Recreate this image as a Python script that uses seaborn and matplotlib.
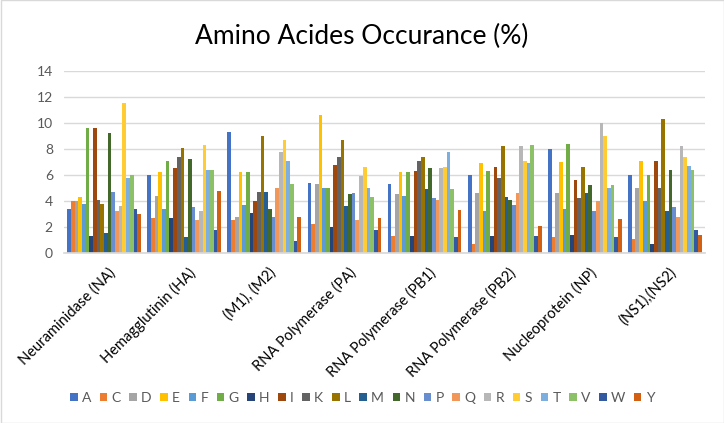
import matplotlib
matplotlib.use("Agg")
import matplotlib.pyplot as plt
import matplotlib.transforms as mtransforms
import seaborn as sns
import pandas as pd
from matplotlib.patches import Rectangle

proteins = ["Neuraminidase (NA)", "Hemagglutinin (HA)", "(M1), (M2)", "RNA Polymerase (PA)",
            "RNA Polymerase (PB1)", "RNA Polymerase (PB2)", "Nucleoprotein (NP)", "(NS1),(NS2)"]
amino_acids = ["A", "C", "D", "E", "F", "G", "H", "I", "K", "L",
               "M", "N", "P", "Q", "R", "S", "T", "V", "W", "Y"]

na  = [3.4, 4.0, 4.0, 4.3, 3.8, 9.6, 1.3, 9.6, 4.1, 3.8, 1.5, 9.2, 4.7, 3.2, 3.6, 11.5, 5.8, 6.0, 3.4, 3.0]
ha  = [6.0, 2.7, 4.4, 6.2, 3.4, 7.1, 2.7, 6.5, 7.4, 8.1, 1.2, 7.2, 3.5, 2.5, 3.2, 8.3, 6.4, 6.4, 1.8, 4.8]
m12 = [9.3, 2.5, 2.8, 6.2, 3.7, 6.2, 3.1, 4.0, 4.7, 9.0, 4.7, 3.4, 2.8, 5.0, 7.8, 8.7, 7.1, 5.3, 0.9, 2.8]
pa  = [5.4, 2.2, 5.3, 10.6, 5.0, 5.0, 2.0, 6.8, 7.4, 8.7, 3.6, 4.5, 4.6, 2.5, 5.9, 6.6, 5.0, 4.3, 1.8, 2.7]
pb1 = [5.3, 1.3, 4.5, 6.2, 4.4, 6.2, 1.3, 6.3, 7.1, 7.4, 4.9, 6.5, 4.2, 4.1, 6.5, 6.6, 7.8, 4.9, 1.2, 3.3]
pb2 = [6.0, 0.7, 4.6, 6.9, 3.2, 6.3, 1.3, 6.6, 5.8, 8.2, 4.3, 4.1, 3.7, 4.6, 8.2, 7.1, 6.9, 8.3, 1.3, 2.1]
np_ = [8.0, 1.2, 4.6, 7.0, 3.4, 8.4, 1.4, 5.6, 4.2, 6.6, 4.6, 5.2, 3.2, 4.0, 10.0, 9.0, 5.0, 5.2, 1.2, 2.6]
ns  = [6.0, 1.1, 5.0, 7.1, 4.0, 6.0, 0.7, 7.1, 5.0, 10.3, 3.2, 6.4, 3.5, 2.8, 8.2, 7.4, 6.7, 6.4, 1.8, 1.4]

colors = ["#4472C4", "#ED7D31", "#A5A5A5", "#FFC000", "#5B9BD5", "#70AD47",
          "#264478", "#9E480E", "#636363", "#997300", "#255E91", "#43682B",
          "#698ED0", "#F1975A", "#B7B7B7", "#FFCD33", "#7CAFDD", "#8CC168",
          "#335AA1", "#D26012"]

series = [na, ha, m12, pa, pb1, pb2, np_, ns]
rows = []
for p, vals in zip(proteins, series):
    for aa, v in zip(amino_acids, vals):
        rows.append({"protein": p, "aa": aa, "value": v})
df = pd.DataFrame(rows)

sns.set_theme(style="white")
plt.rcParams["font.family"] = ["Lato", "DejaVu Sans"]

fig = plt.figure(figsize=(7.24, 4.23), dpi=100)
ax = fig.add_axes([64/724, 1-253/423, (705-64)/724, (253-71)/423])

sns.barplot(data=df, x="protein", y="value", hue="aa", order=proteins,
            hue_order=amino_acids, palette=colors, width=0.92, gap=0,
            saturation=1, ax=ax, errorbar=None, linewidth=0)

ax.set_ylim(0, 14)
ax.set_yticks(range(0, 15, 2))
ax.set_xlim(-0.5, len(proteins) - 0.5)
ax.yaxis.grid(True, color="#D9D9D9", linewidth=1.0)
ax.set_axisbelow(True)
for s in ["top", "right", "left"]:
    ax.spines[s].set_visible(False)
ax.spines["bottom"].set_color("#D9D9D9")
ax.set_xlabel("")
ax.set_ylabel("")
ax.tick_params(axis="both", length=0, colors="#595959", labelsize=10)
ax.tick_params(axis="y", pad=8)
ax.tick_params(axis="x", pad=9)
offset = mtransforms.ScaledTranslation(4/100, 0, fig.dpi_scale_trans)
for lbl in ax.get_xticklabels():
    lbl.set_rotation(45)
    lbl.set_ha("right")
    lbl.set_rotation_mode("anchor")
    lbl.set_fontsize(10.5)
    lbl.set_color("#000000")
    lbl.set_transform(lbl.get_transform() + offset)

handles, labels = ax.get_legend_handles_labels()
ax.get_legend().remove()
leg = fig.legend(handles, labels, loc="center", bbox_to_anchor=(0.5, 1-398/423),
                 ncol=20, frameon=False, fontsize=10, handlelength=0.55,
                 handleheight=0.55, handletextpad=0.3, columnspacing=0.62)
for t in leg.get_texts():
    t.set_color("#595959")

fig.text(0.5, 1-36/423, "Amino Acides Occurance (%)", ha="center", va="center",
         fontsize=19, color="#000000")

fig.patches.append(Rectangle((0.5/724, 0.5/423), 1-1/724, 1-1/423, transform=fig.transFigure,
                             fill=False, edgecolor="#D9D9D9", linewidth=1))

fig.savefig("out.png", dpi=100)
